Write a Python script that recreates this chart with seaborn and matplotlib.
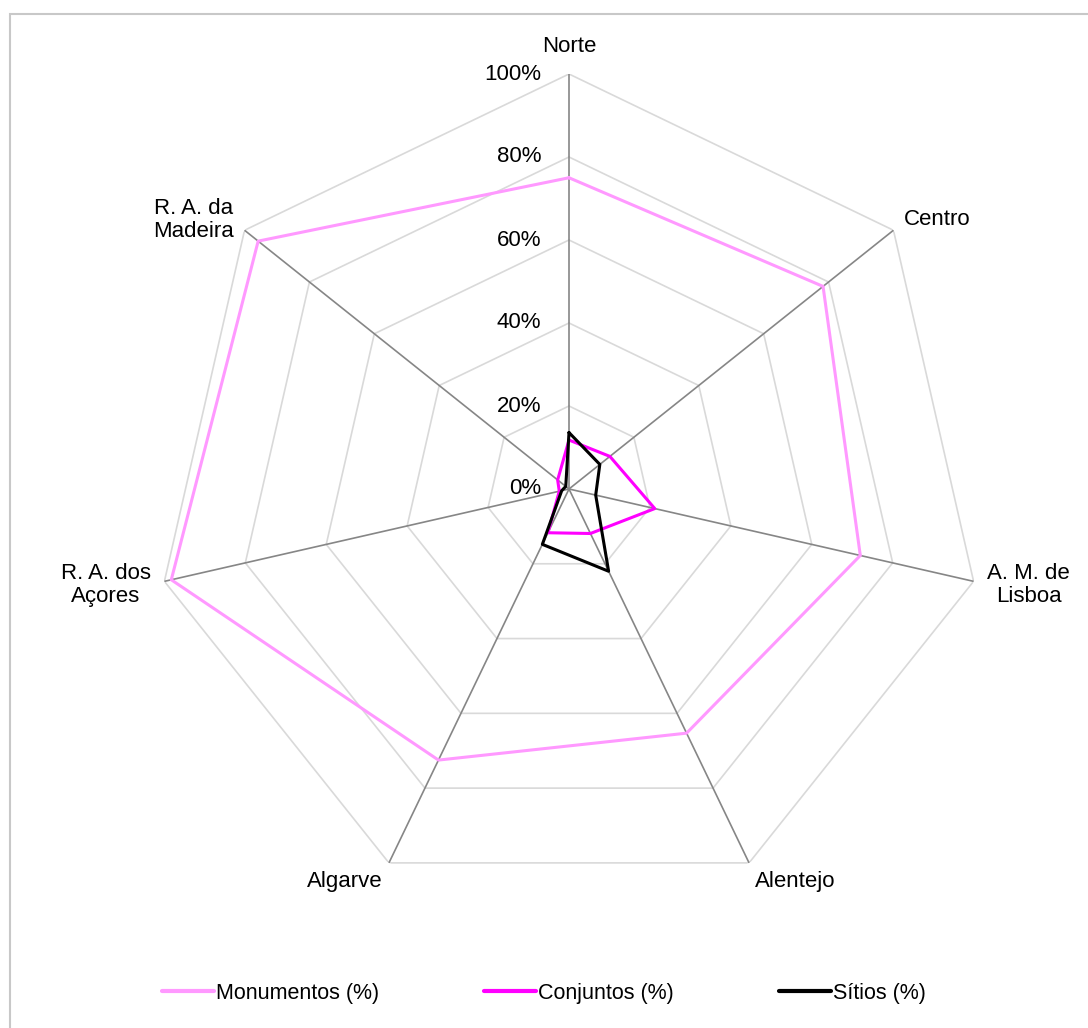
import numpy as np
import pandas as pd
import matplotlib
matplotlib.use("Agg")
import matplotlib.pyplot as plt
import seaborn as sns
from matplotlib.patches import Rectangle

regions = ["Norte", "Centro", "A. M. de\nLisboa", "Alentejo", "Algarve",
           "R. A. dos\nAçores", "R. A. da\nMadeira"]
monumentos = [75.0, 78.3, 72.0, 65.3, 72.5, 98.3, 95.8]
conjuntos = [11.8, 12.6, 21.2, 11.9, 11.7, 2.4, 3.5]
sitios = [13.6, 9.5, 6.6, 22.0, 14.8, 1.8, 1.0]
series_names = ["Monumentos (%)", "Conjuntos (%)", "Sítios (%)"]
colors = ["#FF99FF", "#FF00FF", "#000000"]
ticks = [0, 20, 40, 60, 80, 100]

sns.set_theme(style="white")
plt.rcParams["font.family"] = ["Liberation Sans", "DejaVu Sans"]

n = len(regions)
angles = np.arange(n) * 2 * np.pi / n

rows = []
for name, vals in zip(series_names, [monumentos, conjuntos, sitios]):
    for i in list(range(n)) + [0]:
        rows.append({"series": name, "theta": angles[i], "r": vals[i] / 100})
df = pd.DataFrame(rows)

fig = plt.figure(figsize=(10.88, 10.28), dpi=100)
fig.patches.append(Rectangle((10 / 1088, -0.1), 1.2, 1 - 14 / 1028 + 0.1,
                             transform=fig.transFigure, fill=False,
                             edgecolor="#C8C8C8", linewidth=1.5))

ax = fig.add_axes([154 / 1088, 124 / 1028, 830 / 1088, 830 / 1028],
                  projection="polar")
ax.set_theta_zero_location("N")
ax.set_theta_direction(-1)
ax.set_ylim(0, 1)
ax.grid(False)
ax.spines["polar"].set_visible(False)
ax.set_xticks([])
ax.set_yticks([])
ax.patch.set_alpha(0)

# polygon grid like Excel radar
closed = np.append(angles, angles[0])
for t in ticks[1:]:
    ax.plot(closed, [t / 100] * (n + 1), color="#D9D9D9", linewidth=1.2, zorder=1)
for a in angles:
    ax.plot([a, a], [0, 1], color="#868686", linewidth=1.2, zorder=2)

sns.lineplot(data=df, x="theta", y="r", hue="series", sort=False,
             palette=colors, hue_order=series_names, linewidth=2.2,
             estimator=None, units="series", ax=ax, zorder=3)
ax.set_xlabel("")
ax.set_ylabel("")
ax.get_legend().remove()

for t in ticks:
    ax.annotate(f"{t}%", xy=(0, t / 100), xytext=(-20, 0),
                textcoords="offset points", ha="right", va="center",
                fontsize=16, color="black")

for a, lab in zip(angles, regions):
    s, c = np.sin(a), np.cos(a)
    if abs(s) < 1e-6:
        ha = "center"
    else:
        ha = "left" if s > 0 else "right"
    if c > 0.8:
        va, dy = "bottom", 12
    elif c < -0.5:
        va, dy = "top", -6
    else:
        va, dy = "center", 12 * c
    ax.annotate(lab, xy=(a, 1.0), xytext=(10 * s, dy),
                textcoords="offset points", ha=ha, va=va,
                multialignment="center",
                fontsize=16, color="black", linespacing=1.1)

handles = [plt.Line2D([], [], color=c, linewidth=3) for c in colors]
fig.legend(handles, series_names, loc="center", ncol=3,
           bbox_to_anchor=(0.5, 1 - 993 / 1028), frameon=False,
           fontsize=15.5, handlelength=2.4, handletextpad=0.1,
           columnspacing=4.9, labelcolor="black")

fig.savefig("out.png", dpi=100)
